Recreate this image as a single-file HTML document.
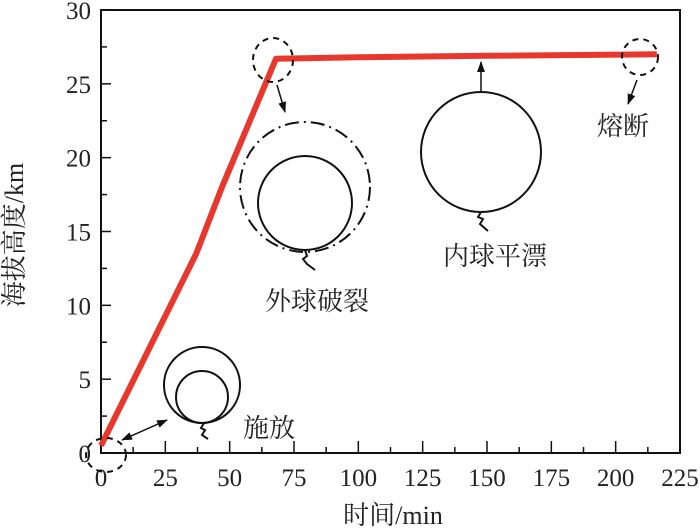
<!DOCTYPE html>
<html><head><meta charset="utf-8"><style>
body{margin:0;background:#fff}
svg{display:block;font-family:"Liberation Serif","Noto Serif CJK SC",serif}
.t{font-size:25px;fill:#222}
.c{font-family:"Liberation Serif","Noto Serif CJK SC","Noto Sans CJK SC",serif;font-size:26px;fill:#222}
</style></head><body>
<svg id="chart" width="700" height="530">
<defs><marker id="ah" markerUnits="userSpaceOnUse" markerWidth="11" markerHeight="8" refX="10" refY="4" orient="auto-start-reverse"><path d="M0,0L11,4L0,8z" fill="#111"/></marker></defs>
<g id="axes"></g>
<polyline id="line" fill="none" stroke="#e8372c" stroke-width="6" stroke-linejoin="round"/>
<g fill="none" stroke="#111" stroke-width="2">
<ellipse cx="106" cy="455" rx="20" ry="17" stroke-dasharray="6,5"/>
<line x1="122" y1="440" x2="167" y2="420" stroke-width="1.5" marker-end="url(#ah)" marker-start="url(#ah)"/>
<circle cx="202" cy="385" r="38"/>
<circle cx="202" cy="397" r="26"/>
<path d="M204,423l-3,5 4,2-3,5 6,4"/>
<ellipse cx="273" cy="60" rx="20" ry="22" stroke-dasharray="6,5"/>
<line x1="277" y1="85" x2="285" y2="112" stroke-width="1.5" marker-end="url(#ah)"/>
<circle cx="305" cy="187" r="65" stroke-dasharray="14,5,2,5"/>
<circle cx="305" cy="203" r="47"/>
<path d="M305,250l2,6-4,3 4,5 8,6"/>
<line x1="481" y1="93" x2="481" y2="62" stroke-width="1.5" marker-end="url(#ah)"/>
<circle cx="481" cy="152" r="60"/>
<path d="M481,212l-3,5 5,2-3,5 8,7"/>
<circle cx="640" cy="57" r="18" stroke-dasharray="6,5"/>
<line x1="637" y1="80" x2="628" y2="104" stroke-width="1.5" marker-end="url(#ah)"/>
</g>
<text class="c" x="243" y="437">施放</text>
<text class="c" x="265" y="310">外球破裂</text>
<text class="c" x="443" y="265">内球平漂</text>
<text class="c" x="597" y="135">熔断</text>
<text class="c" x="393" y="524" text-anchor="middle">时间/min</text>
<text class="c" transform="translate(23,235) rotate(-90)" text-anchor="middle">海拔高度/km</text>
</svg>
<script>
const xTicks=[0,25,50,75,100,125,150,175,200,225];
const yTicks=[0,5,10,15,20,25,30];
const times=[0,37,47,68,100,150,216];
const heights=[0.5,13.5,18,26.7,26.8,26.9,27];
const L=101,R=680,T=10,B=453;
const sx=v=>L+(v-0)/(225)*(R-L);
const sy=v=>B-(v/30)*(B-T);
const ns="http://www.w3.org/2000/svg";
const ax=document.getElementById('axes');
function mk(t,a,p){const e=document.createElementNS(ns,t);for(const k in a)e.setAttribute(k,a[k]);(p||ax).appendChild(e);return e;}
const fr=mk('rect',{x:L,y:T,width:R-L,height:B-T,fill:'none',stroke:'#111','stroke-width':2});


xTicks.forEach((v,i)=>{
 const x=sx(v);
 mk('line',{x1:x,y1:B,x2:x,y2:B-12,stroke:'#111','stroke-width':1.5});
 if(i<xTicks.length-1) mk('line',{x1:sx(v+12.5),y1:B,x2:sx(v+12.5),y2:B-6,stroke:'#111','stroke-width':1.5});
 const t=mk('text',{x:x,y:B+33,'text-anchor':'middle',class:'t'});t.textContent=v;
 
 
});
yTicks.forEach((v,i)=>{
 const y=sy(v);
 mk('line',{x1:L,y1:y,x2:L+10,y2:y,stroke:'#111','stroke-width':1.5});
 if(i<yTicks.length-1) mk('line',{x1:L,y1:sy(v+2.5),x2:L+6,y2:sy(v+2.5),stroke:'#111','stroke-width':1.5});
 const t=mk('text',{x:L-10,y:y+9,'text-anchor':'end',class:'t'});t.textContent=v;
 
 
});
document.getElementById('line').setAttribute('points',times.map((t,i)=>sx(t)+','+sy(heights[i])).join(' '));
</script>
</body></html>
